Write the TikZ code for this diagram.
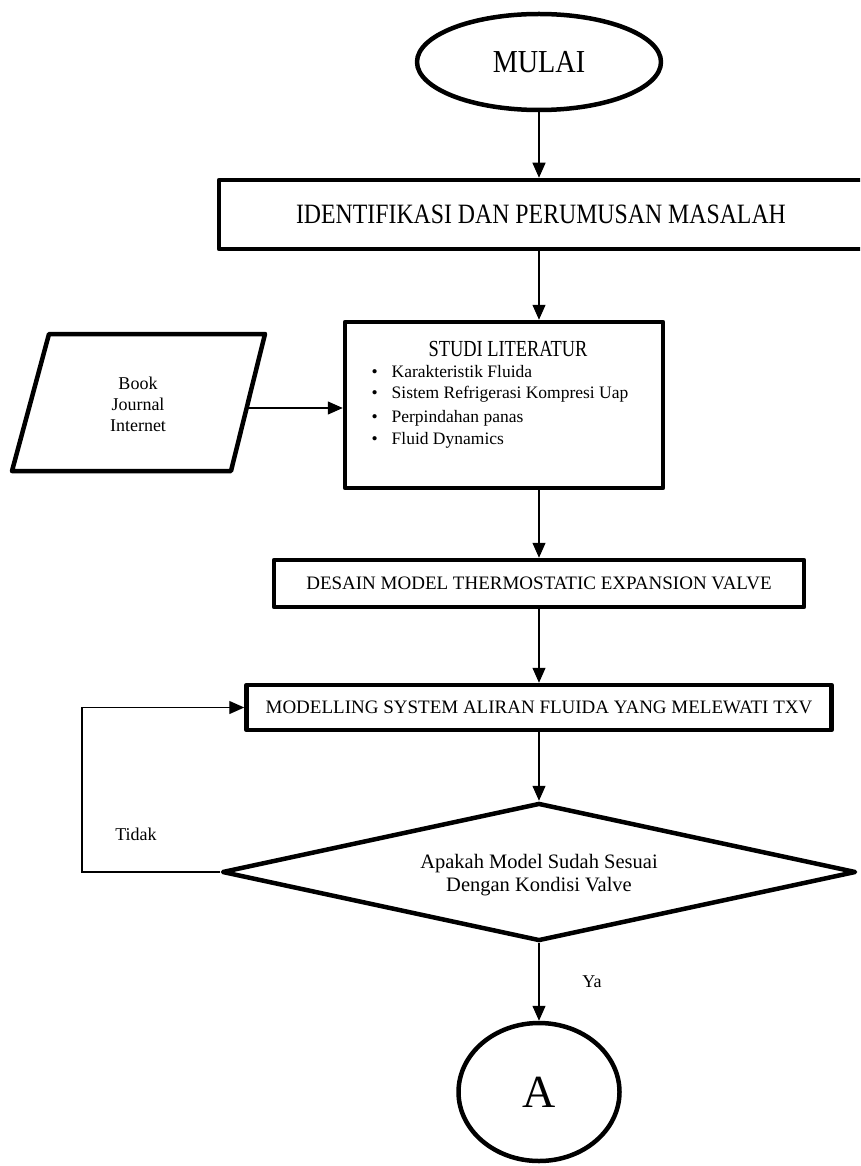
\documentclass[tikz,border=0pt]{standalone}
\usepackage{fontspec}
\usepackage{graphicx}
\setmainfont{Liberation Serif}
\usetikzlibrary{shapes.geometric,arrows.meta}
\newcommand{\cond}[2]{\scalebox{#1}[1]{#2}}
\begin{document}
\begin{tikzpicture}[x=1pt,y=-1pt,
  thick/.style={draw, line width=4.5pt, line join=round, inner sep=0pt},
  box/.style={thick, rectangle},
  conn/.style={line width=1.3pt, -{Triangle[length=15pt,width=13pt]}},
  f18/.style={font=\fontsize{18}{21}\selectfont},
  f19/.style={font=\fontsize{19}{22}\selectfont},
  f17/.style={font=\fontsize{17.5}{20}\selectfont}
]
\clip (0,0) rectangle (860,1166);
% terminals and boxes
\node[thick, ellipse, minimum width=244pt, minimum height=96pt,
      font=\fontsize{32}{36}\selectfont] (mulai) at (539,62) {\cond{0.88}{MULAI}};
\node[box, minimum width=644pt, minimum height=69pt,
      font=\fontsize{28}{32}\selectfont] (ident) at (541,214.5)
  {\cond{0.85}{IDENTIFIKASI DAN PERUMUSAN MASALAH}};
\node[box, minimum width=318pt, minimum height=166pt] (studi) at (504,405) {};
\node[font=\fontsize{23}{27}\selectfont] (studit) at (508,349) {\cond{0.8}{STUDI LITERATUR}};
\node[f17, anchor=west] (b1) at (368,372) {•\hspace{14pt}Karakteristik Fluida};
\node[f17, anchor=west] (b2) at (368,394) {•\hspace{14pt}Sistem Refrigerasi Kompresi Uap};
\node[f17, anchor=west] (b3) at (368,418) {•\hspace{14pt}Perpindahan panas};
\node[f17, anchor=west] (b4) at (368,440) {•\hspace{14pt}Fluid Dynamics};
% input parallelogram
\draw[thick] (49,334) -- (265,334) -- (231,471) -- (12,471) -- cycle;
\node[f18, align=center] (book) at (138,404) {Book\\Journal\\Internet};
\coordinate (bookout) at (249,408);
\node[box, minimum width=530pt, minimum height=47pt, f19] (desain) at (539,583.5)
  {DESAIN MODEL THERMOSTATIC EXPANSION VALVE};
\node[box, minimum width=585pt, minimum height=45pt, f19] (model) at (539,707.5)
  {MODELLING SYSTEM ALIRAN FLUIDA YANG MELEWATI TXV};
\node[thick, diamond, aspect=4.48, minimum width=634pt, minimum height=138pt] (dec) at (539,872) {};
\node[align=center, font=\fontsize{20.5}{23}\selectfont] (dectext) at (539,875)
  {Apakah Model Sudah Sesuai\\Dengan Kondisi Valve};
\node[thick, ellipse, minimum width=161pt, minimum height=138pt,
      font=\fontsize{46}{50}\selectfont] (A) at (539,1092) {A};
% labels
\node[f18] (tidak) at (136,834) {Tidak};
\node[f18] (ya) at (592,982) {Ya};
% connectors
\coordinate (loop) at (82,872);
\draw[conn] (mulai.south) -- (mulai.south |- ident.north);
\draw[conn] (mulai.south |- ident.south) -- (mulai.south |- studi.north);
\draw[conn] (bookout) -- (studi.west |- bookout);
\draw[conn] (desain.north |- studi.south) -- (desain.north);
\draw[conn] (desain.south) -- (model.north);
\draw[conn] (model.south) -- (dec.north);
\draw[conn] (dec.south) -- (A.north);
\draw[conn] (dec.west) -- (loop) |- (model.west);
\end{tikzpicture}
\end{document}
